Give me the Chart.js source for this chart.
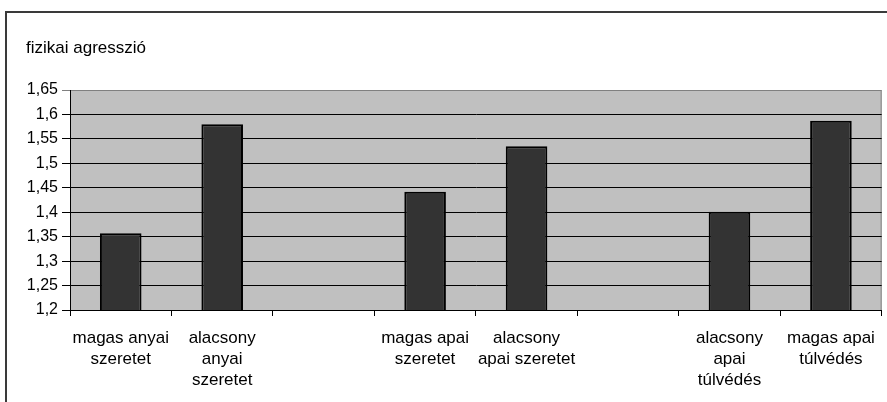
<!DOCTYPE html>
<html>
<head>
<meta charset="utf-8">
<script src="https://cdn.jsdelivr.net/npm/chart.js@4.4.1/dist/chart.umd.min.js"></script>
<style>
    html, body { margin: 0; padding: 0; background: #fff; }
    #wrap { position: relative; width: 887px; height: 402px; overflow: hidden; }
    #frame {
        position: absolute; left: 5px; top: 11px; width: 900px; height: 420px;
        border-left: 2px solid #3a3a3a; border-top: 2px solid #3a3a3a;
    }
    canvas { position: absolute; left: 0; top: 0; }
</style>
</head>
<body>
<div id="wrap">
    <div id="frame"></div>
    <canvas id="chart" width="887" height="402"></canvas>
</div>
<script>
// categories (multi-line labels, empty slots keep the gaps)
const categories = [
    ["magas anyai", "szeretet"],
    ["alacsony", "anyai", "szeretet"],
    "",
    ["magas apai", "szeretet"],
    ["alacsony", "apai szeretet"],
    "",
    ["alacsony", "apai", "túlvédés"],
    ["magas apai", "túlvédés"]
];

// series values
const agresszio = [1.357, 1.58, null, 1.442, 1.535, null, 1.401, 1.587];

// y tick labels
const yTickLabels = ["1,2", "1,25", "1,3", "1,35", "1,4", "1,45", "1,5", "1,55", "1,6", "1,65"];

const axisTitle = "fizikai agresszió";

//Plot area background, frame and the axis title
const plotBackground = {
    id: "plotBackground",
    beforeDraw(chart) {
        const { ctx, chartArea: a } = chart;
        ctx.save();
        ctx.fillStyle = "#c0c0c0";
        ctx.fillRect(a.left, a.top, a.right - a.left, a.bottom - a.top);
        ctx.strokeStyle = "#808080";
        ctx.lineWidth = 1;
        ctx.beginPath();
        ctx.moveTo(a.left, a.top + 0.5);
        ctx.lineTo(a.right - 0.5, a.top + 0.5);
        ctx.lineTo(a.right - 0.5, a.bottom);
        ctx.stroke();

        ctx.fillStyle = "#000";
        ctx.font = "17px 'Liberation Sans', Arial, sans-serif";
        ctx.textBaseline = "alphabetic";
        ctx.textAlign = "left";
        ctx.fillText(axisTitle, 26, 53);
        ctx.restore();
    }
};

const ctx = document.getElementById("chart").getContext("2d");

new Chart(ctx, {
    type: "bar",
    data: {
        labels: categories,
        datasets: [
            {
                data: agresszio,
                backgroundColor: "#333333",
                borderColor: "#000",
                borderWidth: 2,
                barPercentage: 0.41,
                categoryPercentage: 1.0
            }
        ]
    },
    options: {
        responsive: false,
        animation: false,
        layout: {
            padding: { top: 90, right: 2, left: 0, bottom: 0 }
        },
        scales: {
            x: {
                grid: {
                    offset: true,
                    drawOnChartArea: false,
                    drawTicks: true,
                    tickLength: 6,
                    color: "#000"
                },
                border: { display: true, color: "#000", width: 1 },
                ticks: {
                    color: "#000",
                    font: { family: "'Liberation Sans', Arial, sans-serif", size: 17, lineHeight: 1.24 },
                    maxRotation: 0,
                    minRotation: 0,
                    autoSkip: false,
                    padding: 12
                },
                afterFit(scale) { scale.height = 92; }
            },
            y: {
                min: 1.2,
                max: 1.65,
                ticks: {
                    stepSize: 0.05,
                    color: "#000",
                    font: { family: "'Liberation Sans', Arial, sans-serif", size: 16 },
                    padding: 4,
                    callback: (v, i) => yTickLabels[i]
                },
                grid: {
                    color: (c) => (c.tick && Math.abs(c.tick.value - 1.65) < 1e-6 ? "#808080" : "#000"),
                    lineWidth: 1,
                    tickLength: 8
                },
                border: { display: true, color: "#000", width: 1 },
                afterFit(scale) { scale.width = 70; }
            }
        },
        plugins: {
            legend: { display: false },
            tooltip: { enabled: false },
            title: { display: false }
        }
    },
    plugins: [plotBackground]
});
</script>
</body>
</html>
